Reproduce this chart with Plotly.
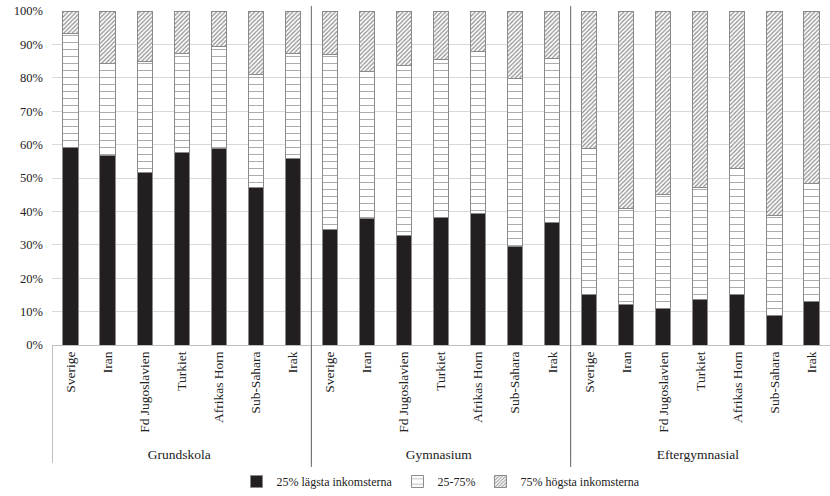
import plotly.graph_objects as go

groups = ["Grundskola", "Gymnasium", "Eftergymnasial"]
countries = ["Sverige", "Iran", "Fd Jugoslavien", "Turkiet", "Afrikas Horn", "Sub-Sahara", "Irak"]

low_grund = [59.0, 56.6, 51.5, 57.5, 58.9, 47.1, 55.8]
mid_grund = [34.2, 27.6, 33.5, 29.7, 30.6, 33.9, 31.4]
high_grund = [6.8, 15.8, 15.0, 12.8, 10.5, 19.0, 12.8]

low_gymn = [34.7, 37.9, 32.9, 38.3, 39.4, 29.4, 36.7]
mid_gymn = [52.2, 44.1, 50.7, 47.1, 48.6, 50.4, 49.0]
high_gymn = [13.1, 18.0, 16.4, 14.6, 12.0, 20.2, 14.3]

low_efter = [15.2, 12.1, 10.8, 13.5, 15.0, 8.7, 12.9]
mid_efter = [43.7, 28.7, 34.2, 33.7, 37.9, 30.1, 35.5]
high_efter = [41.1, 59.2, 55.0, 52.8, 47.1, 61.2, 51.6]

series_names = ["25% lägsta inkomsterna", "25-75%", "75% högsta inkomsterna"]
y_ticks = [0, 10, 20, 30, 40, 50, 60, 70, 80, 90, 100]
y_tick_labels = ["0%", "10%", "20%", "30%", "40%", "50%", "60%", "70%", "80%", "90%", "100%"]

x_outer = [g for g in groups for _ in countries]
x_inner = countries * len(groups)
x = [x_outer, x_inner]

low = low_grund + low_gymn + low_efter
mid = mid_grund + mid_gymn + mid_efter
high = high_grund + high_gymn + high_efter

FONT = "Liberation Serif"
fig = go.Figure()
fig.add_trace(go.Bar(x=x, y=low, name=series_names[0],
                     marker=dict(color="#231f20", line=dict(color="#8a8a8a", width=1))))
fig.add_trace(go.Bar(x=x, y=mid, name=series_names[1],
                     marker=dict(color="white", line=dict(color="#8a8a8a", width=1),
                                 pattern=dict(shape="-", fgcolor="#555555", bgcolor="white",
                                              size=7, solidity=0.14))))
fig.add_trace(go.Bar(x=x, y=high, name=series_names[2],
                     marker=dict(color="white", line=dict(color="#8a8a8a", width=1),
                                 pattern=dict(shape="/", fgcolor="#222222", bgcolor="white",
                                              size=3, solidity=0.42))))

ncat = len(x_inner)
shapes = []
for k in range(1, len(groups)):
    xp = k * len(countries) / ncat
    shapes.append(dict(type="line", xref="paper", yref="paper", x0=xp, x1=xp,
                       y0=-0.383, y1=1.015, line=dict(color="#666666", width=1)))

fig.update_layout(
    barmode="stack",
    bargap=0.59,
    width=830, height=496,
    margin=dict(l=52, r=0, t=11, b=151, autoexpand=False),
    plot_bgcolor="white", paper_bgcolor="white",
    font=dict(family=FONT, size=13, color="#222222"),
    showlegend=True,
    legend=dict(orientation="h", x=0.5, xanchor="center", yref="container", y=0.0,
                yanchor="bottom", font=dict(family=FONT, size=12), traceorder="normal",
                itemwidth=30),
    shapes=shapes,
)
fig.update_yaxes(range=[0, 100], tickvals=y_ticks, ticktext=y_tick_labels,
                 showgrid=True, gridcolor="#d9d9d9", gridwidth=1,
                 zeroline=False, showline=False, ticklabelstandoff=8,
                 tickfont=dict(family=FONT, size=12.5, color="#222222"))
fig.update_xaxes(type="multicategory", tickangle=-90,
                 showline=True, linecolor="#bfbfbf", linewidth=1,
                 showdividers=True, dividercolor="#bfbfbf", dividerwidth=1,
                 tickfont=dict(family=FONT, size=13.5, color="#222222"))

fig.write_html("out.html", config={"displayModeBar": False},
               post_script="document.body.style.margin='0';")
